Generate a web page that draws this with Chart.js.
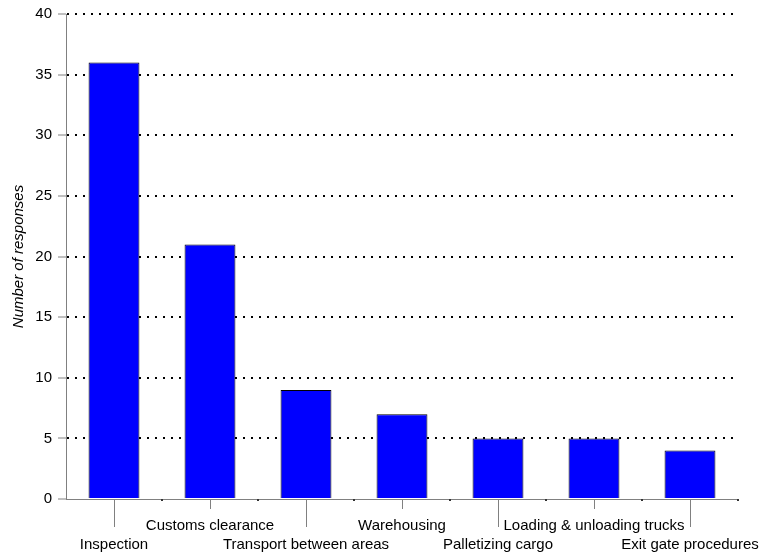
<!DOCTYPE html>
<html>
<head>
    <meta charset="UTF-8">
    <script src="https://cdn.jsdelivr.net/npm/chart.js@4.4.1/dist/chart.umd.min.js"></script>
    <style>
        html, body {
            margin: 0;
            padding: 0;
            background: #ffffff;
        }
        #wrap {
            width: 761px;
            height: 554px;
        }
    </style>
</head>
<body>

<div id="wrap">
    <canvas id="responsesChart" width="761" height="554"></canvas>
</div>

<script>
// data
const categories = ['Inspection', 'Customs clearance', 'Transport between areas', 'Warehousing',
                    'Palletizing cargo', 'Loading & unloading trucks', 'Exit gate procedures'];
const responses = [36, 21, 9, 7, 5, 5, 4];
const yTicks = [0, 5, 10, 15, 20, 25, 30, 35, 40];
const yTitle = 'Number of responses';

const FONT = "'Liberation Sans', Arial, sans-serif";

// tick marks under the x axis: long ones for the lower label row, short for the upper
const xTickMarks = {
    id: 'xTickMarks',
    afterDraw(chart) {
        const ctx = chart.ctx;
        const x = chart.scales.x;
        const area = chart.chartArea;
        ctx.save();
        ctx.strokeStyle = '#808080';
        ctx.lineWidth = 1;
        for (let i = 0; i < categories.length; i++) {
            const px = Math.round(x.getPixelForTick(i)) + 0.5;
            const len = i % 2 === 0 ? 28 : 10;
            ctx.beginPath();
            ctx.moveTo(px, area.bottom);
            ctx.lineTo(px, area.bottom + len);
            ctx.stroke();
        }
        // tiny marks on the category boundaries
        ctx.fillStyle = '#333333';
        for (let i = 1; i <= categories.length; i++) {
            const right = i < categories.length ? x.getPixelForTick(i) : null;
            const bx = right === null
                ? x.getPixelForTick(i - 1) + (x.getPixelForTick(1) - x.getPixelForTick(0)) / 2
                : (x.getPixelForTick(i - 1) + right) / 2;
            ctx.fillRect(Math.round(bx) - 1, area.bottom, 2, 2);
        }
        ctx.restore();
    }
};

const ctx = document.getElementById('responsesChart');
const chart = new Chart(ctx, {
    type: 'bar',
    data: {
        labels: categories,
        datasets: [{
            label: yTitle,
            data: responses,
            backgroundColor: '#0000ff',
            borderColor: '#000000',
            borderWidth: 1,
            categoryPercentage: 1.0,
            barPercentage: 0.53
        }]
    },
    options: {
        responsive: false,
        animation: false,
        devicePixelRatio: 1,
        layout: {
            padding: { left: 0, right: 23, top: 14, bottom: 0 }
        },
        plugins: {
            legend: { display: false },
            tooltip: { enabled: false }
        },
        scales: {
            x: {
                grid: { display: false, drawTicks: false },
                border: { display: true, color: '#808080', width: 1 },
                ticks: {
                    color: '#000000',
                    font: { family: FONT, size: 15, lineHeight: 19 / 15 },
                    padding: 17,
                    maxRotation: 0,
                    minRotation: 0,
                    autoSkip: false,
                    callback: function (value, index) {
                        const lbl = categories[index];
                        return index % 2 === 0 ? ['', lbl] : lbl;
                    }
                },
                afterFit(scale) {
                    scale.height = 55;
                    scale.paddingLeft = 0;
                    scale.paddingRight = 0;
                }
            },
            y: {
                min: 0,
                max: 40,
                afterBuildTicks(scale) {
                    scale.ticks = yTicks.map(v => ({ value: v }));
                },
                grid: {
                    color: ctx => ctx.tick && ctx.tick.value === 0 ? 'rgba(0,0,0,0)' : '#000000',
                    lineWidth: 2,
                    drawTicks: true,
                    tickLength: 8,
                    tickColor: '#808080',
                    tickWidth: 1,
                    tickBorderDash: []
                },
                border: { display: true, color: '#808080', width: 1, dash: [2, 6] },
                ticks: {
                    color: '#000000',
                    font: { family: FONT, size: 15 },
                    padding: 6
                },
                title: {
                    display: true,
                    text: yTitle,
                    color: '#000000',
                    font: { family: FONT, size: 15, style: 'italic' },
                    padding: { top: 10, bottom: 0 }
                },
                afterFit(scale) {
                    scale.width = 66;
                    scale.paddingTop = 0;
                    scale.paddingBottom = 0;
                }
            }
        }
    },
    plugins: [xTickMarks]
});
</script>

</body>
</html>
